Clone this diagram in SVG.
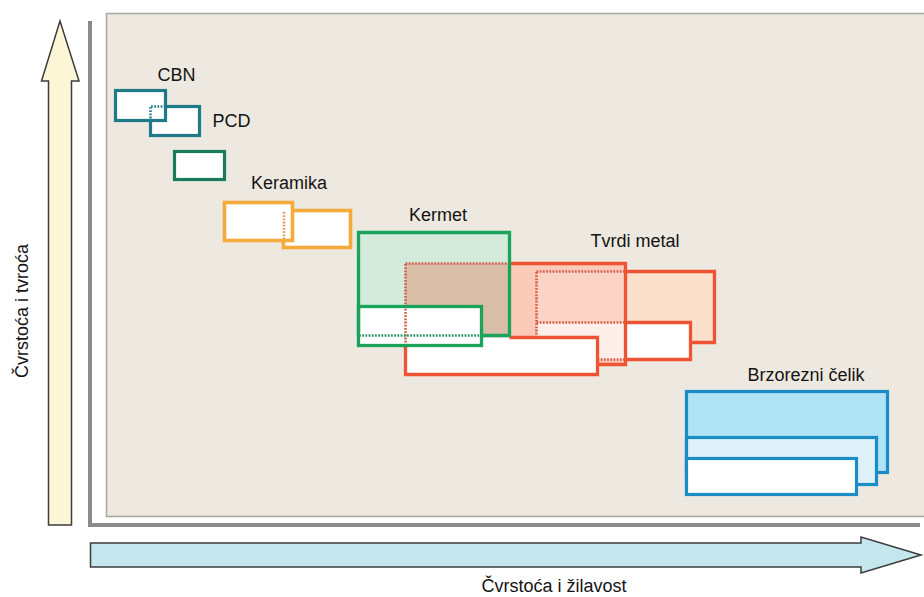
<svg xmlns="http://www.w3.org/2000/svg" width="924" height="597" viewBox="0 0 924 597">
<style>
text{font-family:"Liberation Sans","DejaVu Sans",sans-serif;fill:#141414;font-size:18px}
.lbl{text-anchor:middle}
.teal{stroke:#1d7a86;stroke-width:3.2;fill:#fff}
.dgreen{stroke:#1b7a5c;stroke-width:3.2;fill:#fff}
.orange{stroke:#f5aa3c;stroke-width:3.6;fill:#fff}
.green{stroke:#1aa35b;stroke-width:3.3;fill:none}
.red{stroke:#ee5433;stroke-width:3.3;fill:none}
.blue{stroke:#1a8dc6;stroke-width:3.2}
.dot{fill:none;stroke-width:2.6;stroke-dasharray:1.8 1.4}
.arrow{stroke:#3c3c3c;stroke-width:1.5}
</style>
<rect width="924" height="597" fill="#fff"/>
<g id="panel">
<rect x="106.5" y="13.5" width="830" height="503" fill="#ede9e0" stroke="#a9a7a1" stroke-width="1.5"/>
</g>
<g id="axes">
<path d="M90,21 V525 H920" fill="none" stroke="#8a8a8a" stroke-width="4"/>
<polygon class="arrow" fill="#fdf6d6" points="48.5,525 71.5,525 71.5,81 79,81 60,21 41.5,81 48.5,81"/>
<polygon class="arrow" fill="#c4e7ee" points="90.5,543 861,543 861,537 921,555 861,573 861,567 90.5,567"/>
<text transform="translate(28,311) rotate(-90)" class="lbl">Čvrstoća i tvroća</text>
<text x="554" y="592" class="lbl">Čvrstoća i žilavost</text>
</g>
<g id="cbn-pcd">
<rect class="teal" x="150.5" y="106.5" width="49" height="29"/>
<rect class="teal" x="115.5" y="90.5" width="50" height="30"/>
<path class="dot" stroke="#2a8590" d="M150.5,107 V119 M151,106.5 H164"/>
<text x="176.5" y="81" class="lbl">CBN</text>
<text x="231.5" y="127" class="lbl">PCD</text>
</g>
<g id="green-small">
<rect class="dgreen" x="174.5" y="151.5" width="50" height="28"/>
</g>
<g id="keramika">
<rect class="orange" x="283.5" y="210.5" width="67" height="37"/>
<rect class="orange" x="224.5" y="202.5" width="68" height="38"/>
<path class="dot" stroke="#e0a05a" d="M284,212 V239"/>
<text x="289" y="189" class="lbl">Keramika</text>
</g>
<g id="kermet-tvrdi-metal">
<rect x="405.5" y="263.5" width="220" height="101" fill="#fbcab9"/>
<rect x="625.5" y="271.5" width="89" height="71" fill="#fde0cb"/>
<rect x="536.5" y="271.5" width="89" height="51" fill="#fcd4c6"/>
<rect x="536.5" y="322.5" width="89" height="37" fill="#fdeee9"/>
<rect x="625.5" y="322.5" width="65" height="37" fill="#fff"/>
<rect x="358.5" y="232.5" width="151" height="103" fill="#d4eadb"/>
<rect x="405.5" y="263.5" width="104" height="72" fill="#d8bea6"/>
<rect x="405.5" y="337.5" width="192" height="37" fill="#fff"/>
<rect x="358.5" y="306.5" width="123" height="39" fill="#fff"/>
<path class="dot" stroke="#d65a48" d="M405.5,263.5 H509 M405.5,264 V345 M536.5,271.5 H625 M536.5,272 V336 M536.5,322.5 H625 M597.5,359.5 H625"/>
<path class="dot" stroke="#2a9660" d="M359,335.5 H481"/>
<path class="red" d="M509.5,263.5 H625.5 V364.5 H597.5"/>
<path class="red" d="M625.5,271.5 H714.5 V342.5 H690.5"/>
<path class="red" d="M625.5,322.5 H690.5 V359.5 H625.5"/>
<path class="red" d="M509.5,337.5 H597.5 V374.5 H405.5 V345"/>
<path class="green" d="M481.5,335.5 H509.5 V232.5 H358.5 V335.5"/>
<rect class="green" x="358.5" y="306.5" width="123" height="39"/>
<text x="438" y="221" class="lbl">Kermet</text>
<text x="635" y="247" class="lbl">Tvrdi metal</text>
</g>
<g id="brzorezni-celik">
<rect class="blue" x="686.5" y="391.5" width="201" height="81" fill="#b1e3f6"/>
<rect class="blue" x="686.5" y="437.5" width="190" height="47" fill="#def1f9"/>
<rect class="blue" x="686.5" y="458.5" width="170" height="36" fill="#fff"/>
<text x="806" y="381" class="lbl">Brzorezni čelik</text>
</g>
<g id="connectors"></g>
</svg>
